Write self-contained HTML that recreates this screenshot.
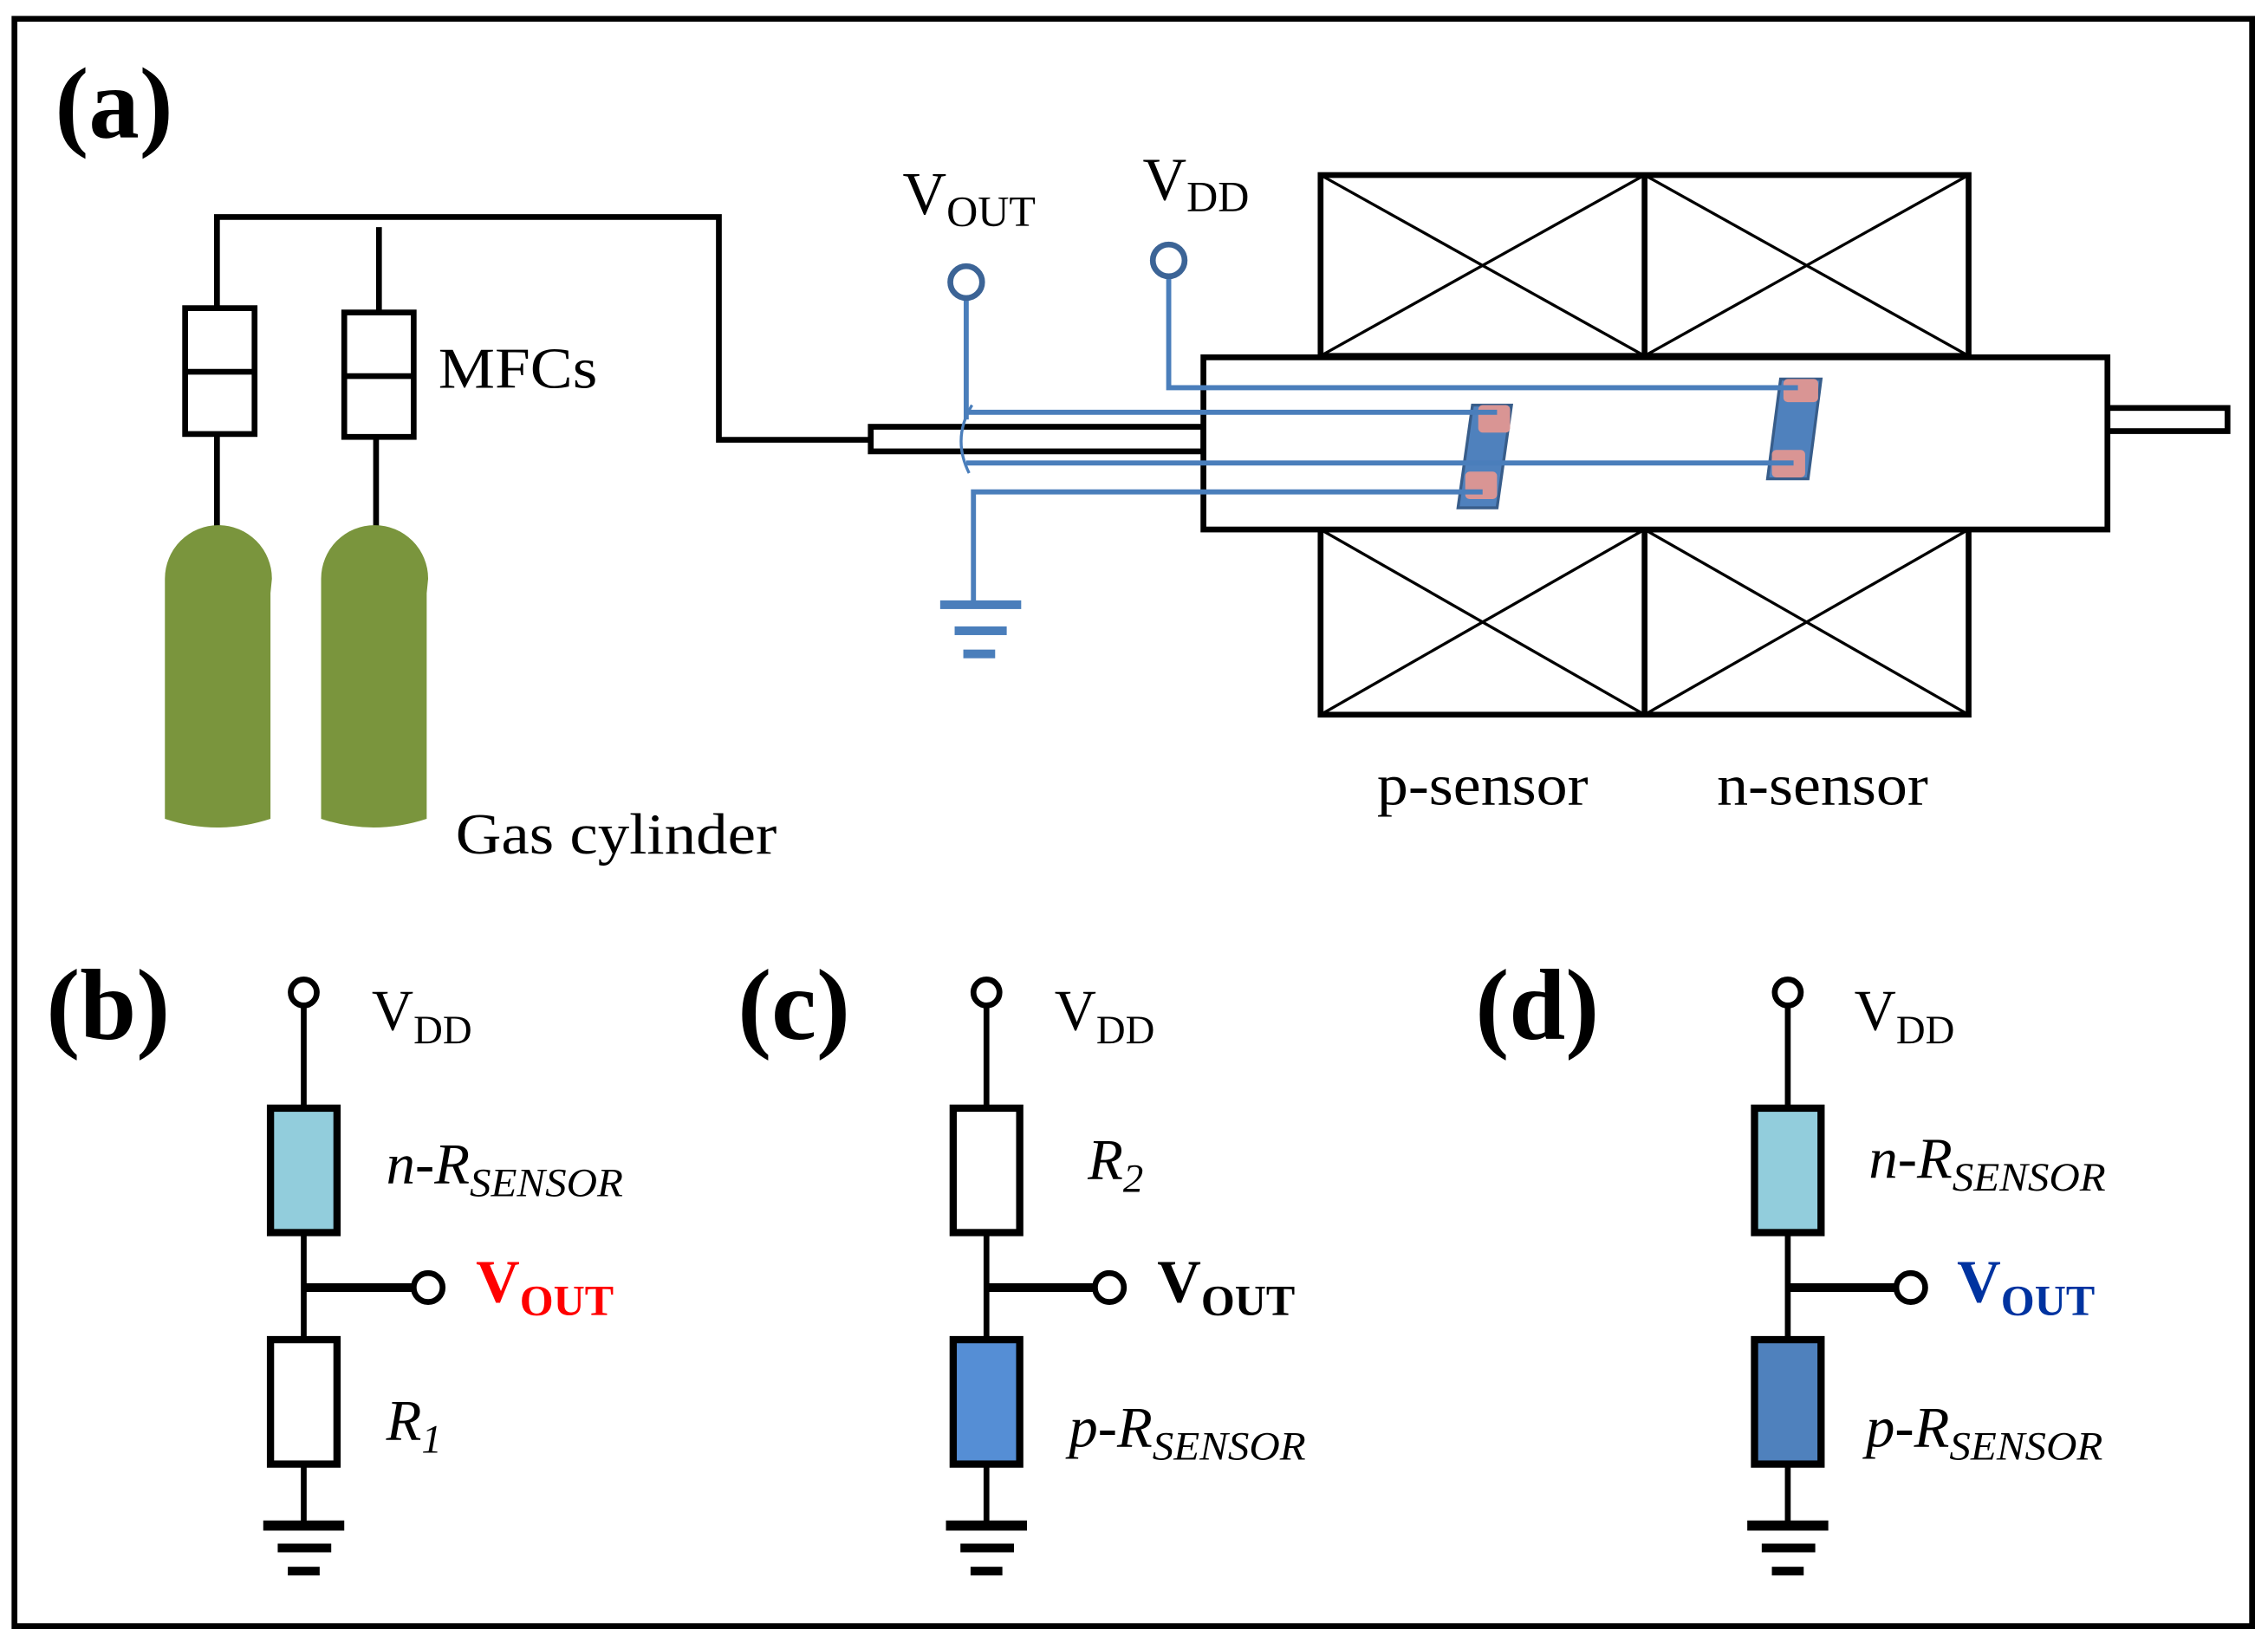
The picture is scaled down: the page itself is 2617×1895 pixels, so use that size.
<!DOCTYPE html>
<html><head><style>
html,body{margin:0;padding:0;background:#fff;}
svg{display:block;}
text{font-family:"Liberation Serif",serif;}
</style></head><body>
<svg width="2617" height="1895" viewBox="0 0 1568 1135" preserveAspectRatio="none" xmlns="http://www.w3.org/2000/svg">
<rect x="0" y="0" width="1568" height="1135" fill="#fff"/>
<rect x="10" y="13" width="1547" height="1111" fill="none" stroke="#000" stroke-width="4"/>
<text x="38" y="95" font-size="70" font-weight="bold">(a)</text>

<g stroke="#000" stroke-width="4" fill="none">
<polyline points="150,213 150,150 497,150 497,304 602,304"/>
<line x1="262" y1="157" x2="262" y2="216"/>
<line x1="150" y1="300" x2="150" y2="365"/>
<line x1="260" y1="302" x2="260" y2="365"/>
<rect x="128" y="213" width="48" height="87"/>
<line x1="128" y1="257" x2="176" y2="257"/>
<rect x="238" y="216" width="48" height="86"/>
<line x1="238" y1="260" x2="286" y2="260"/>
</g>
<g fill="#7a953d">
<path d="M114,400 A37,37 0 0 1 188,400 L187,410 L187,566 Q150,578 114,566 Z"/>
<path d="M222,400 A37,37 0 0 1 296,400 L295,410 L295,566 Q258,578 222,566 Z"/>
</g>
<text x="303" y="268" font-size="40" textLength="110" lengthAdjust="spacingAndGlyphs">MFCs</text>
<text x="315" y="590" font-size="40" textLength="222" lengthAdjust="spacingAndGlyphs">Gas cylinder</text>

<g stroke="#000" fill="none">
<rect x="602" y="295" width="230" height="17" stroke-width="4"/>
<rect x="1457" y="282" width="83" height="16" stroke-width="4"/>
<rect x="913" y="121" width="448" height="125" stroke-width="4"/>
<line x1="1137" y1="121" x2="1137" y2="246" stroke-width="4"/>
<rect x="913" y="366" width="448" height="128" stroke-width="4"/>
<line x1="1137" y1="366" x2="1137" y2="494" stroke-width="4"/>
<g stroke-width="2">
<line x1="913" y1="121" x2="1137" y2="246"/><line x1="1137" y1="121" x2="913" y2="246"/>
<line x1="1137" y1="121" x2="1361" y2="246"/><line x1="1361" y1="121" x2="1137" y2="246"/>
<line x1="913" y1="366" x2="1137" y2="494"/><line x1="1137" y1="366" x2="913" y2="494"/>
<line x1="1137" y1="366" x2="1361" y2="494"/><line x1="1361" y1="366" x2="1137" y2="494"/>
</g>
<rect x="832" y="247" width="625" height="119" stroke-width="4" fill="#fff"/>
</g>

<polygon points="1018,280 1045,280 1035,351 1008,351" fill="#4f81bd" stroke="#385d8a" stroke-width="2"/>
<polygon points="1231,262 1259,262 1250,331 1222,331" fill="#4f81bd" stroke="#385d8a" stroke-width="2"/>
<g fill="#d99594">
<rect x="1022" y="280" width="22" height="19" rx="3"/>
<rect x="1013" y="326" width="22" height="19" rx="3"/>
<rect x="1233" y="262" width="24" height="16" rx="3"/>
<rect x="1225" y="311" width="23" height="19" rx="3"/>
</g>

<g stroke="#4a7ebb" stroke-width="3.5" fill="none">
<line x1="668" y1="206" x2="668" y2="290"/>
<polyline points="808,191 808,268 1243,268"/>
<line x1="668" y1="285" x2="1035" y2="285"/>
<line x1="668" y1="320" x2="1240" y2="320"/>
<polyline points="1025,340 673,340 673,418"/>
<path d="M672,280 Q658,303 670,327" stroke-width="2"/>
</g>
<g fill="#4a7ebb" stroke="none">
<rect x="650" y="415" width="56" height="6"/>
<rect x="660" y="433" width="36" height="6"/>
<rect x="666" y="449" width="22" height="6"/>
</g>
<circle cx="668" cy="195" r="11" fill="#fff" stroke="#3c6496" stroke-width="4"/>
<circle cx="808" cy="180" r="11" fill="#fff" stroke="#3c6496" stroke-width="4"/>
<text x="624" y="148" font-size="42">V<tspan font-size="30" dy="8">OUT</tspan></text>
<text x="790" y="138" font-size="42">V<tspan font-size="30" dy="8">DD</tspan></text>
<text x="952" y="556" font-size="40" textLength="146" lengthAdjust="spacingAndGlyphs">p-sensor</text>
<text x="1187" y="556" font-size="40" textLength="146" lengthAdjust="spacingAndGlyphs">n-sensor</text>

<text x="32" y="718" font-size="70" font-weight="bold">(b)</text>
<text x="510" y="718" font-size="70" font-weight="bold">(c)</text>
<text x="1020" y="718" font-size="70" font-weight="bold">(d)</text>

<g stroke="#000" stroke-width="4">
<line x1="210" y1="695" x2="210" y2="1054"/>
<line x1="210" y1="890" x2="287" y2="890" stroke-width="6"/>
<rect x="187" y="766" width="46" height="86" fill="#92cddc" stroke-width="5"/>
<rect x="187" y="926" width="46" height="86" fill="#fff" stroke-width="5"/>
<circle cx="210" cy="686" r="9" fill="#fff"/>
<circle cx="296" cy="890" r="10" fill="#fff"/>
<line x1="682" y1="695" x2="682" y2="1054"/>
<line x1="682" y1="890" x2="758" y2="890" stroke-width="6"/>
<rect x="659" y="766" width="46" height="86" fill="#fff" stroke-width="5"/>
<rect x="659" y="926" width="46" height="86" fill="#558ed5" stroke-width="5"/>
<circle cx="682" cy="686" r="9" fill="#fff"/>
<circle cx="767" cy="890" r="10" fill="#fff"/>
<line x1="1236" y1="695" x2="1236" y2="1054"/>
<line x1="1236" y1="890" x2="1312" y2="890" stroke-width="6"/>
<rect x="1213" y="766" width="46" height="86" fill="#92cddc" stroke-width="5"/>
<rect x="1213" y="926" width="46" height="86" fill="#4f81bd" stroke-width="5"/>
<circle cx="1236" cy="686" r="9" fill="#fff"/>
<circle cx="1321" cy="890" r="10" fill="#fff"/>
</g>
<g fill="#000">
<rect x="182" y="1051" width="56" height="7"/><rect x="192" y="1067" width="37" height="6"/><rect x="199" y="1083" width="22" height="6"/>
<rect x="654" y="1051" width="56" height="7"/><rect x="664" y="1067" width="37" height="6"/><rect x="671" y="1083" width="22" height="6"/>
<rect x="1208" y="1051" width="56" height="7"/><rect x="1218" y="1067" width="37" height="6"/><rect x="1225" y="1083" width="22" height="6"/>
</g>

<text x="257" y="712" font-size="40">V<tspan font-size="28" dy="9">DD</tspan></text>
<text x="729" y="712" font-size="40">V<tspan font-size="28" dy="9">DD</tspan></text>
<text x="1282" y="712" font-size="40">V<tspan font-size="28" dy="9">DD</tspan></text>

<text x="267" y="818" font-size="40" font-style="italic">n-R<tspan font-size="28" dy="9" textLength="106" lengthAdjust="spacingAndGlyphs">SENSOR</tspan></text>
<text x="267" y="995" font-size="40" font-style="italic">R<tspan font-size="28" dy="9">1</tspan></text>
<text x="329" y="900" font-size="42" font-weight="bold" fill="#ff0000">V<tspan font-size="30" dy="9">OUT</tspan></text>

<text x="752" y="815" font-size="40" font-style="italic">R<tspan font-size="28" dy="9">2</tspan></text>
<text x="739" y="1000" font-size="40" font-style="italic">p-R<tspan font-size="28" dy="9" textLength="106" lengthAdjust="spacingAndGlyphs">SENSOR</tspan></text>
<text x="800" y="900" font-size="42" font-weight="bold">V<tspan font-size="30" dy="9">OUT</tspan></text>

<text x="1292" y="814" font-size="40" font-style="italic">n-R<tspan font-size="28" dy="9" textLength="106" lengthAdjust="spacingAndGlyphs">SENSOR</tspan></text>
<text x="1290" y="1000" font-size="40" font-style="italic">p-R<tspan font-size="28" dy="9" textLength="106" lengthAdjust="spacingAndGlyphs">SENSOR</tspan></text>
<text x="1353" y="900" font-size="42" font-weight="bold" fill="#0033a0">V<tspan font-size="30" dy="9">OUT</tspan></text>
</svg>
</body></html>
